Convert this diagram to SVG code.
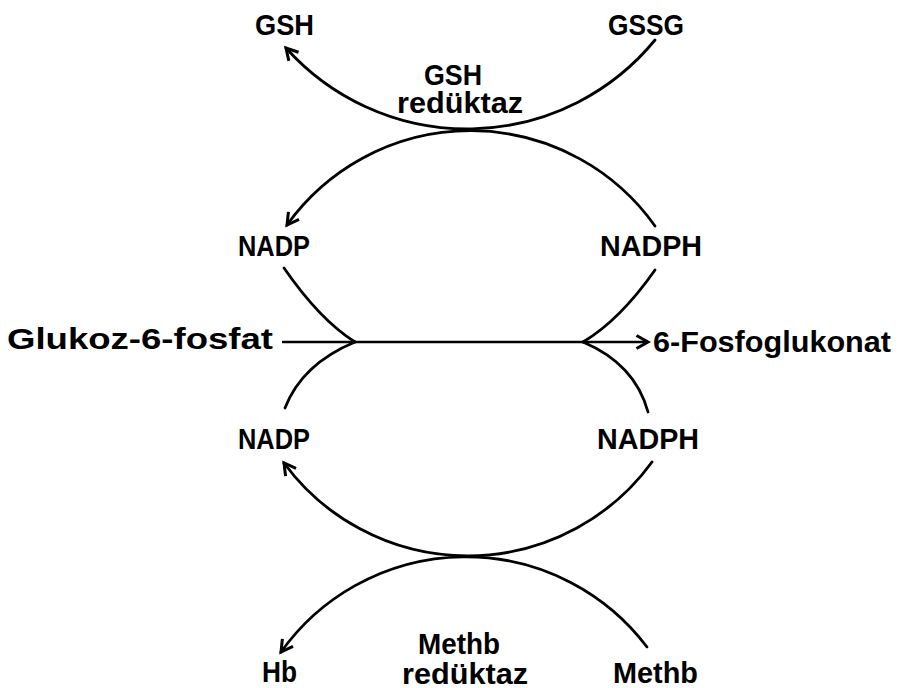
<svg xmlns="http://www.w3.org/2000/svg" width="900" height="688" viewBox="0 0 900 688">
<defs>
<marker id="arr" viewBox="0 0 16 16" refX="13" refY="8" markerWidth="16" markerHeight="16" markerUnits="userSpaceOnUse" orient="auto">
<path d="M1.5,1.5 L13,8 L1.5,14.5" fill="none" stroke="#000" stroke-width="3" stroke-linejoin="miter"/>
</marker>
<style>
.t{font-family:"Liberation Sans","DejaVu Sans",sans-serif;font-weight:bold;font-size:30px;fill:#000;}
.c{fill:none;stroke:#000;stroke-width:2.8;stroke-linecap:round;}
.h{fill:none;stroke:#000;stroke-width:2.4;}
</style>
</defs>
<rect width="900" height="688" fill="#fff"/>
<g id="connectors">
<path id="gsh-arc" class="c" d="M655,40 A243,243 0 0 1 286,48" marker-end="url(#arr)"/>
<path id="upper-top" class="c" d="M655,226 A226,226 0 0 0 287,225" marker-end="url(#arr)"/>
<path id="upper-left" class="c" d="M284,268 Q320,320 355,342"/>
<path id="upper-right" class="c" d="M655,270 Q620,320 583,342"/>
<path id="lower-left" class="c" d="M355,342 Q302,364 285,408"/>
<path id="lower-right" class="c" d="M583,342 Q635,364 648,412"/>
<path id="glukoz-line" class="h" d="M282,342 L648,342" marker-end="url(#arr)"/>
<path id="lower-bottom" class="c" d="M652,462 A228,228 0 0 1 284,463" marker-end="url(#arr)"/>
<path id="methb-arc" class="c" d="M647,647 A227,227 0 0 0 281,652" marker-end="url(#arr)"/>
</g>
<g id="node-gsh"><text class="t" x="255" y="35" textLength="59" lengthAdjust="spacingAndGlyphs">GSH</text></g>
<g id="node-gssg"><text class="t" x="608" y="35" textLength="76" lengthAdjust="spacingAndGlyphs">GSSG</text></g>
<g id="node-gsh-reduktaz"><text class="t" x="424" y="85" textLength="58" lengthAdjust="spacingAndGlyphs">GSH</text><text class="t" x="397" y="113" textLength="126" lengthAdjust="spacingAndGlyphs">redüktaz</text></g>
<g id="node-nadp-1"><text class="t" x="238" y="256" textLength="72" lengthAdjust="spacingAndGlyphs">NADP</text></g>
<g id="node-nadph-1"><text class="t" x="600" y="256" textLength="102" lengthAdjust="spacingAndGlyphs">NADPH</text></g>
<g id="node-g6p"><text class="t" x="7" y="349" textLength="266" lengthAdjust="spacingAndGlyphs">Glukoz-6-fosfat</text></g>
<g id="node-6pg"><text class="t" x="653" y="352" textLength="238" lengthAdjust="spacingAndGlyphs">6-Fosfoglukonat</text></g>
<g id="node-nadp-2"><text class="t" x="238" y="449" textLength="72" lengthAdjust="spacingAndGlyphs">NADP</text></g>
<g id="node-nadph-2"><text class="t" x="597" y="449" textLength="102" lengthAdjust="spacingAndGlyphs">NADPH</text></g>
<g id="node-hb"><text class="t" x="262" y="682" textLength="35" lengthAdjust="spacingAndGlyphs">Hb</text></g>
<g id="node-methb-reduktaz"><text class="t" x="418" y="654" textLength="82" lengthAdjust="spacingAndGlyphs">Methb</text><text class="t" x="402" y="684" textLength="126" lengthAdjust="spacingAndGlyphs">redüktaz</text></g>
<g id="node-methb"><text class="t" x="613" y="683" textLength="85" lengthAdjust="spacingAndGlyphs">Methb</text></g>
</svg>
